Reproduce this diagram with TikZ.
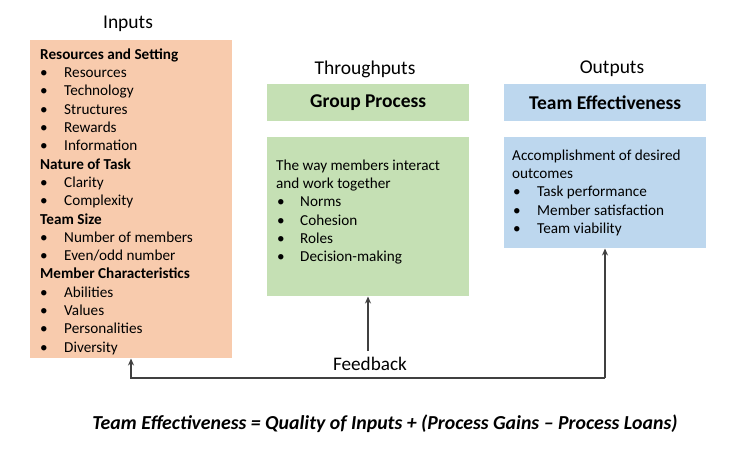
\documentclass[tikz,border=0pt]{standalone}
\usepackage{fontspec}
\setmainfont{Carlito}
\usetikzlibrary{arrows.meta}
\definecolor{inorange}{HTML}{F8CBAD}
\definecolor{thgreen}{HTML}{C5E0B4}
\definecolor{outblue}{HTML}{BDD7EE}
\definecolor{linegray}{HTML}{404040}
\newcommand{\bul}[2][24pt]{\makebox[#1][l]{\textbullet}#2}
\begin{document}
\begin{tikzpicture}[x=1pt,y=-1pt,
  boxbase/.style={draw=none,minimum width=202pt,inner sep=0pt,anchor=north west},
  coltitle/.style={font={\fontsize{19.5}{23}\selectfont},inner sep=0pt},
  headtitle/.style={font={\fontsize{19.5}{23}\selectfont\bfseries},inner sep=0pt},
  bodytext/.style={font={\fontsize{15.2}{18.3}\selectfont},align=left,inner sep=0pt,anchor=north west},
  conn/.style={draw=linegray,line width=1.6pt,-{Stealth[length=7pt,width=6pt]}}]
\useasboundingbox[fill=white] (0,0) rectangle (752,464);

% titles
\node[coltitle] (tin) at (128,23.5) {Inputs};
\node[coltitle] (tth) at (365,69) {Throughputs};
\node[coltitle] (tout) at (612,69) {Outputs};

% inputs box
\node[boxbase,fill=inorange,minimum width=202pt,minimum height=318pt] (inbox) at (30,40) {};
\node[bodytext] (intext) at (40,48.5) {%
\textbf{Resources and Setting}\\
\bul{Resources}\\
\bul{Technology}\\
\bul{Structures}\\
\bul{Rewards}\\
\bul{Information}\\
\textbf{Nature of Task}\\
\bul{Clarity}\\
\bul{Complexity}\\
\textbf{Team Size}\\
\bul{Number of members}\\
\bul{Even/odd number}\\
\textbf{Member Characteristics}\\
\bul{Abilities}\\
\bul{Values}\\
\bul{Personalities}\\
\bul{Diversity}};

% throughputs
\node[boxbase,fill=thgreen,minimum height=37pt] (gphead) at (267,84) {};
\node[headtitle] (gptitle) at (gphead.center) {Group Process};
\node[boxbase,fill=thgreen,minimum height=159pt] (gpbody) at (267,137) {};
\node[bodytext] (gptext) at (276,159.5) {%
The way members interact\\
and work together\\
\hspace{1pt}\bul[23pt]{Norms}\\
\hspace{1pt}\bul[23pt]{Cohesion}\\
\hspace{1pt}\bul[23pt]{Roles}\\
\hspace{1pt}\bul[23pt]{Decision-making}};

% outputs
\node[boxbase,fill=outblue,minimum height=37pt] (tehead) at (504,84) {};
\node[headtitle] (tetitle) at (tehead.center) {Team Effectiveness};
\node[boxbase,fill=outblue,minimum height=111pt] (tebody) at (504,137) {};
\node[bodytext] (tetext) at (512,149.5) {%
Accomplishment of desired\\
outcomes\\
\hspace{1pt}\bul{Task performance}\\
\hspace{1pt}\bul{Member satisfaction}\\
\hspace{1pt}\bul{Team viability}};

% feedback
\node[coltitle,font={\fontsize{19.2}{22}\selectfont}] (fb) at (370,364) {Feedback};
\coordinate (fbtop) at (368,351);
\draw[conn] (fbtop) -- (368,296.5);
\coordinate (loopL) at (131,378);
\coordinate (loopR) at (605,378);
\draw[conn] (loopR) -- (605,248.5);
\draw[conn] (loopR) -- (loopL) -- (131,358.5);

% formula
\node[inner sep=0pt,font={\fontsize{19.8}{23}\selectfont\bfseries\itshape}] (formula) at (385,424)
  {Team Effectiveness = Quality of Inputs + (Process Gains -- Process Loans)};
\end{tikzpicture}
\end{document}
